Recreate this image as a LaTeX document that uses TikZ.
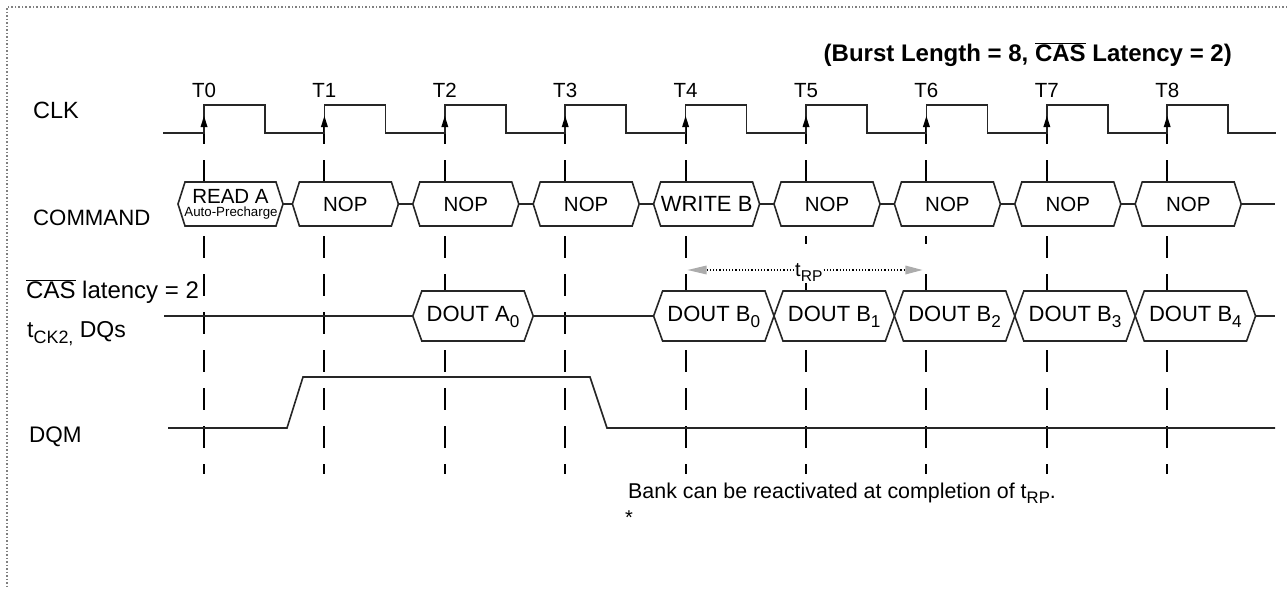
\documentclass[tikz,border=0pt]{standalone}
\usepackage{fontspec}
\usepackage{graphicx}
\setmainfont{Liberation Sans}
\usetikzlibrary{calc}
\newcommand\ovl[1]{$\overline{\hbox{#1}}$}
\newcommand\subs[1]{\raisebox{-0.28em}{\scalebox{0.78}{#1}}}
\begin{document}
\begin{tikzpicture}[x=1pt,y=-1pt,line join=miter]
\tikzset{
 wave/.style={line width=1.6pt, black!85},
 gridline/.style={line width=2pt, dash pattern=on 22pt off 16pt},
 hexbox/.style={line width=1.6pt, fill=white, draw=black!85},
 lbl/.style={inner sep=0pt, anchor=base west},
 tlab/.style={inner sep=0pt, anchor=base, font=\fontsize{20.5}{24}\selectfont},
 btxt/.style={inner sep=0pt, font=\fontsize{20.5}{24}\selectfont},
 dtxt/.style={inner sep=0pt, font=\fontsize{22}{26}\selectfont},
 frame/.style={gray, dotted, line width=1.5pt},
}
\useasboundingbox (0,0) rectangle (1287,589);
% frame (top and left only)
\draw[frame] (1287,7) -- (7,7) -- (7,589);

% title
\node[inner sep=0pt, anchor=base east, font=\fontsize{24}{28}\selectfont\bfseries] (title) at (1232,61)
  {(Burst Length = 8, \ovl{CAS} Latency = 2)};

% dashed clock-edge guides
\foreach \k in {0,...,8}{
  \draw[gridline] ({204+120.4*\k},122) -- ({204+120.4*\k},474);
}
% blank area behind the tRP annotation
\fill[white] (695,244) rectangle (936,272);

% clock
\draw[wave] (163,133) \foreach \k in {0,...,8}{
   -- ({204+120.4*\k},133) -- ({204+120.4*\k},105) -- ({265+120.4*\k},105) -- ({265+120.4*\k},133)}
   -- (1276,133);
\foreach \k in {0,...,8}{
  \fill ({204+120.4*\k},116) -- ++(-3.5,11) -- ++(7,0) -- cycle;
  \node[tlab] (t\k) at ({204+120.4*\k},97.5) {T\k};
}

% left labels
\node[lbl, font=\fontsize{23.5}{27}\selectfont] (clk) at (33,118) {CLK};
\node[lbl, font=\fontsize{22.2}{26}\selectfont] (cmd) at (33,225) {COMMAND};
\node[lbl, font=\fontsize{24}{28}\selectfont] (cas) at (26,298) {\ovl{CAS} latency = 2};
\node[lbl, font=\fontsize{23}{27}\selectfont] (tck) at (27,337) {t\subs{CK2,} DQs};
\node[lbl, font=\fontsize{22.5}{26}\selectfont] (dqm) at (29,442) {DQM};

% command row
\coordinate (cL0) at (178,204);
\coordinate (cR0) at (283,204);
\draw[hexbox] (178,204) -- (185,182) -- (276,182) -- (283,204) -- (276,226) -- (185,226) -- cycle;
\node[btxt] (c0a) at (230.5,196.5) {READ A};
\node[inner sep=0pt, font=\fontsize{13.3}{15}\selectfont] (c0b) at (231,213) {Auto-Precharge};
\foreach \k/\txt/\fs in {1/NOP/20.5,2/NOP/20.5,3/NOP/20.5,4/WRITE B/22,5/NOP/20.5,6/NOP/20.5,7/NOP/20.5,8/NOP/20.5}{
  \pgfmathsetmacro\L{204+120.4*\k-32}
  \pgfmathsetmacro\R{\L+106}
  \coordinate (cL\k) at (\L,204);
  \coordinate (cR\k) at (\R,204);
  \draw[hexbox] (\L,204) -- (\L+7,182) -- (\R-7,182) -- (\R,204) -- (\R-7,226) -- (\L+7,226) -- cycle;
  \node[btxt, font=\fontsize{\fs}{24}\selectfont] (c\k) at ({(\L+\R)/2},204) {\txt};
}
\foreach \a/\b in {0/1,1/2,2/3,3/4,4/5,5/6,6/7,7/8}{
  \draw[wave] (cR\a) -- (cL\b);
}
\coordinate (cend) at (1275,204);
\draw[wave] (cR8) -- (cend);

% DQ row
\coordinate (dstart) at (164,316);
\coordinate (dAL) at (412.8,316);
\coordinate (dAR) at (533.2,316);
\draw[hexbox] (412.8,316) -- (421.8,291) -- (524.2,291) -- (533.2,316) -- (524.2,341) -- (421.8,341) -- cycle;
\node[dtxt] (dA) at (473,317) {DOUT A\subs{0}};
\foreach \j in {0,...,4}{
  \pgfmathsetmacro\L{204+120.4*(4+\j)-32}
  \pgfmathsetmacro\R{\L+120.4}
  \coordinate (dL\j) at (\L,316);
  \coordinate (dR\j) at (\R,316);
  \draw[hexbox] (\L,316) -- (\L+9,291) -- (\R-9,291) -- (\R,316) -- (\R-9,341) -- (\L+9,341) -- cycle;
  \node[dtxt] (dB\j) at ({(\L+\R)/2},317) {DOUT B\subs{\j}};
}
\coordinate (dend) at (1275,316);
\draw[wave] (dstart) -- (dAL);
\draw[wave] (dAR) -- (dL0);
\draw[wave] (dR4) -- (dend);

% tRP annotation
\coordinate (rpL) at ({204+120.4*4+2},270);
\coordinate (rpR) at ({204+120.4*6-4},270);
\node[inner sep=1pt, fill=white, anchor=base west, font=\fontsize{20}{22}\selectfont] (trp) at (794,276) {t\subs{RP}};
\draw[dotted, line width=1.2pt] ($(rpL)+(19,0)$) -- (trp.west |- rpL);
\draw[dotted, line width=1.2pt] (trp.east |- rpR) -- ($(rpR)+(-17,0)$);
\fill[gray!65] (rpL) -- ++(19,-4.5) -- ++(0,9) -- cycle;
\fill[gray!65] (rpR) -- ++(-17,-4.5) -- ++(0,9) -- cycle;

% DQM
\coordinate (m0) at (168,428);
\coordinate (m1) at (287,428);
\coordinate (m2) at (303,377);
\coordinate (m3) at (590,377);
\coordinate (m4) at (607,428);
\coordinate (m5) at (1275,428);
\draw[wave] (m0) -- (m1) -- (m2) -- (m3) -- (m4) -- (m5);

% note
\node[inner sep=0pt, anchor=base west, font=\fontsize{21.4}{24}\selectfont] (note) at (628,498)
  {Bank can be reactivated at completion of t\subs{RP}.};
\node[inner sep=0pt, anchor=base, font=\fontsize{20}{22}\selectfont] (star) at (629,524) {*};
\end{tikzpicture}
\end{document}
